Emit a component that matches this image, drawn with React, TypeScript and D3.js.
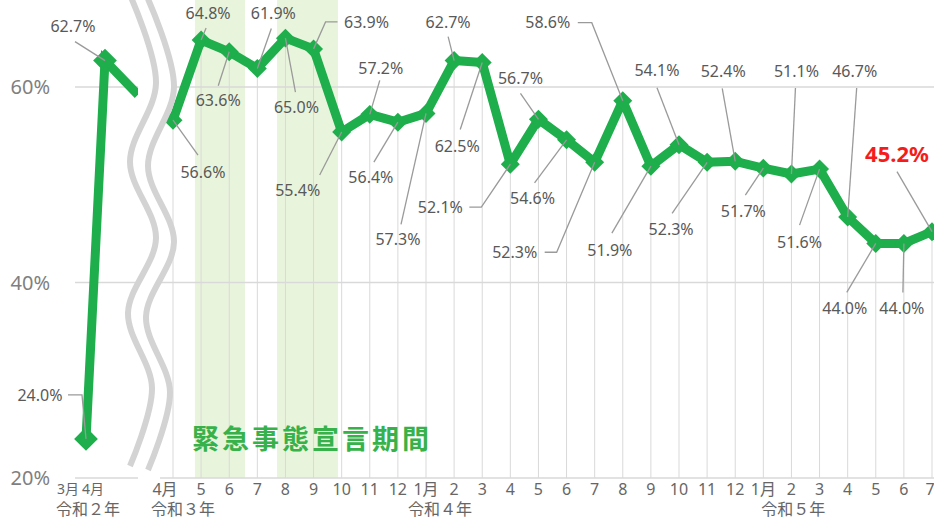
import React, { useRef, useEffect } from 'react';
import * as d3 from 'd3';

// 令和2年 (before the break)
const leftMonths = ['3月', '4月', ''];
const leftValues = [24.0, 62.7, 59.2];

// 令和3年4月 .. 令和5年7月
const rightMonths = ['4月', '5', '6', '7', '8', '9', '10', '11', '12', '1月', '2', '3',
    '4', '5', '6', '7', '8', '9', '10', '11', '12', '1月', '2', '3', '4', '5', '6', '7'];
const rightValues = [56.6, 64.8, 63.6, 61.9, 65.0, 63.9, 55.4, 57.2, 56.4, 57.3, 62.7, 62.5,
    52.1, 56.7, 54.6, 52.3, 58.6, 51.9, 54.1, 52.3, 52.4, 51.7, 51.1, 51.6, 46.7, 44.0, 44.0, 45.2];

const yTicks = [20, 40, 60];
const yearLabels = ['令和２年', '令和３年', '令和４年', '令和５年'];
const yearAt = [0, 0, 9, 21]; // month index each year label sits under
const emergencyBands = [[0.78, 2.56], [3.7, 5.87]]; // in month-index units
const emergencyLabel = '緊急事態宣言期間';

// label layout: [dx, dy, anchorX, anchorY, elbow] relative to the point / label centre
const leftLabelLayout = [[-46, -44, 28, 0, 14], [-32, -34, 2, 15, 0]];
const rightLabelLayout = [
    [30, 52, -5, -17, 0], [7, -27, -2, 15, 0], [-11, 49, 0, -15, 0], [16, -55, -2, 15, 0],
    [11, 69, -1, -15, 0], [53, -26, -29, -1, -12], [-44, 58, 22, -15, 0], [11, -46, -1, 12, 0],
    [-27, 55, 3, -15, 0], [-28, 126, 3, -15, 0], [-6, -38, 0, 14, 0], [-25, 84, 3, -17, 0],
    [-70, 43, 29, 0, 12], [-18, -41, 0, 15, 0], [-34, 59, 2, -16, 0], [-80, 90, 30, 0, 12],
    [-75, -78, 30, 0, 14], [-41, 84, 2, -17, 0], [-22, -74, 0, 17, 0], [-36, 67, 1, -16, 0],
    [-12, -90, -1, 17, 0], [-20, 43, 2, -16, 0], [5, -103, -1, 17, 0], [-20, 73, 0, -17, 0],
    [7, -146, 2, 17, 0], [-31, 65, 2, -16, 0], [-2, 65, 1, -16, 0], [-35, -77, 0, 17, 0],
];

const GREEN = '#1eae4b';
const FONT = "'Noto Sans', 'Noto Sans CJK JP', sans-serif";

export default function App() {
    const svgRef = useRef(null);

    useEffect(() => {
        document.body.style.margin = '0';
        const width = 934;
        const height = 519;

        const y = d3.scaleLinear().domain([20, 60]).range([478, 87]);
        const xL = d3.scaleLinear().domain([0, 1, 2]).range([86, 105, 138]);
        const xR = d3.scaleLinear().domain([0, rightValues.length - 1]).range([173, 932]);
        const leftPanel = [75, 138];
        const rightPanel = [160, 934];

        const svg = d3.select(svgRef.current)
            .attr('width', width)
            .attr('height', height)
            .style('font-family', FONT);
        svg.selectAll('*').remove();

        // emergency declaration bands
        svg.selectAll('.band')
            .data(emergencyBands)
            .enter()
            .append('rect')
            .attr('x', d => xR(d[0]))
            .attr('y', 0)
            .attr('width', d => xR(d[1]) - xR(d[0]))
            .attr('height', y(20))
            .attr('fill', '#e9f4dc');

        // horizontal gridlines
        yTicks.forEach(t => {
            [leftPanel, rightPanel].forEach(p => {
                svg.append('line')
                    .attr('x1', p[0]).attr('x2', p[1])
                    .attr('y1', y(t)).attr('y2', y(t))
                    .attr('stroke', '#d9d9d9')
                    .attr('stroke-width', 1.5);
            });
            svg.append('text')
                .attr('x', 50)
                .attr('y', y(t))
                .attr('dy', '0.35em')
                .attr('text-anchor', 'end')
                .attr('font-size', 20)
                .attr('fill', '#7f7f7f')
                .text(t + '%');
        });

        // drop lines
        svg.selectAll('.drop')
            .data(rightValues)
            .enter()
            .append('line')
            .attr('x1', (d, i) => xR(i)).attr('x2', (d, i) => xR(i))
            .attr('y1', d => y(d)).attr('y2', y(20))
            .attr('stroke', '#d9d9d9');

        // emergency label
        svg.append('text')
            .attr('x', 192)
            .attr('y', 440)
            .attr('dy', '0.35em')
            .attr('font-size', 27)
            .attr('font-weight', 700)
            .attr('letter-spacing', 3)
            .attr('font-family', "'Noto Sans CJK JP', sans-serif")
            .attr('fill', '#37b24a')
            .text(emergencyLabel);

        // series lines
        svg.append('clipPath').attr('id', 'leftClip')
            .append('rect').attr('x', 0).attr('y', 0).attr('width', leftPanel[1]).attr('height', height);

        const lineL = d3.line().x((d, i) => xL(i)).y(d => y(d));
        const lineR = d3.line().x((d, i) => xR(i)).y(d => y(d));

        svg.append('path')
            .datum(leftValues)
            .attr('d', lineL)
            .attr('clip-path', 'url(#leftClip)')
            .attr('fill', 'none')
            .attr('stroke', GREEN)
            .attr('stroke-width', 9)
            .attr('stroke-linejoin', 'miter');

        svg.append('path')
            .datum(rightValues)
            .attr('d', lineR)
            .attr('fill', 'none')
            .attr('stroke', GREEN)
            .attr('stroke-width', 9)
            .attr('stroke-linejoin', 'round');

        // diamond markers
        const diamond = d3.symbol(d3.symbolSquare, 180)();
        const pts = leftValues.slice(0, 2).map((v, i) => [xL(i), y(v), 1.25])
            .concat(rightValues.map((v, i) => [xR(i), y(v), 1]));
        svg.selectAll('.marker')
            .data(pts)
            .enter()
            .append('path')
            .attr('d', diamond)
            .attr('transform', d => `translate(${d[0]},${d[1]}) rotate(45) scale(${d[2]})`)
            .attr('fill', GREEN);

        // data labels with leader lines
        const fmt = d3.format('.1f');
        const drawLabel = (px, py, v, lay, highlight) => {
            const lx = px + lay[0];
            const ly = py + lay[1];
            const ax = lx + lay[2];
            const ay = ly + lay[3];
            const path = d3.path();
            path.moveTo(ax, ay);
            if (lay[4]) path.lineTo(ax + lay[4], ay);
            path.lineTo(px, py);
            svg.append('path')
                .attr('d', path.toString())
                .attr('fill', 'none')
                .attr('stroke', '#9a9a9a')
                .attr('stroke-width', 1.3);
            svg.append('text')
                .attr('x', lx)
                .attr('y', ly)
                .attr('dy', '0.35em')
                .attr('text-anchor', 'middle')
                .attr('font-size', highlight ? 22 : 16)
                .attr('font-weight', highlight ? 700 : 400)
                .attr('fill', highlight ? '#f51c1c' : '#595959')
                .text(fmt(v) + '%');
        };
        leftLabelLayout.forEach((lay, i) => drawLabel(xL(i), y(leftValues[i]), leftValues[i], lay, false));
        rightLabelLayout.forEach((lay, i) => drawLabel(xR(i), y(rightValues[i]), rightValues[i], lay,
            i === rightValues.length - 1));

        // axis break
        const wave = [[130, -5], [156, 83], [130, 162], [156, 238], [128, 313], [152, 388], [130, 466]];
        const off = 18;
        const curve = d3.line().curve(d3.curveCatmullRom.alpha(0.5));
        const band = wave.concat(wave.slice().reverse().map(p => [p[0] + off, p[1] + 4]));
        svg.append('path')
            .attr('d', d3.line().curve(d3.curveLinearClosed)(band))
            .attr('fill', '#fff');
        [0, off].forEach((o, k) => {
            svg.append('path')
                .attr('d', curve(wave.map(p => [p[0] + o, p[1] + k * 4])))
                .attr('fill', 'none')
                .attr('stroke', '#d3d3d3')
                .attr('stroke-width', 6);
        });

        // x axis labels
        const monthStyle = sel => sel
            .attr('dy', '0.35em')
            .attr('text-anchor', 'middle')
            .attr('font-size', 16)
            .attr('fill', '#666');
        leftMonths.forEach((m, i) => {
            if (!m) return;
            svg.append('text')
                .attr('x', xL(i) - 18 + i * 6)
                .attr('y', 489)
                .call(monthStyle)
                .attr('font-size', 14)
                .text(m);
        });
        rightMonths.forEach((m, i) => {
            svg.append('text')
                .attr('x', xR(i) - (i === 0 ? 8 : 0) - (i === rightMonths.length - 1 ? 2 : 0))
                .attr('y', 489)
                .call(monthStyle)
                .text(m);
        });
        const yearX = [xL(0) + 2, xR(0) + 10, xR(yearAt[2]) + 14, xR(yearAt[3]) + 30];
        yearLabels.forEach((t, i) => {
            svg.append('text')
                .attr('x', yearX[i])
                .attr('y', 509)
                .call(monthStyle)
                .attr('font-size', 16)
                .text(t);
        });
    }, []);

    return <svg ref={svgRef} style={{ display: 'block' }}></svg>;
}
